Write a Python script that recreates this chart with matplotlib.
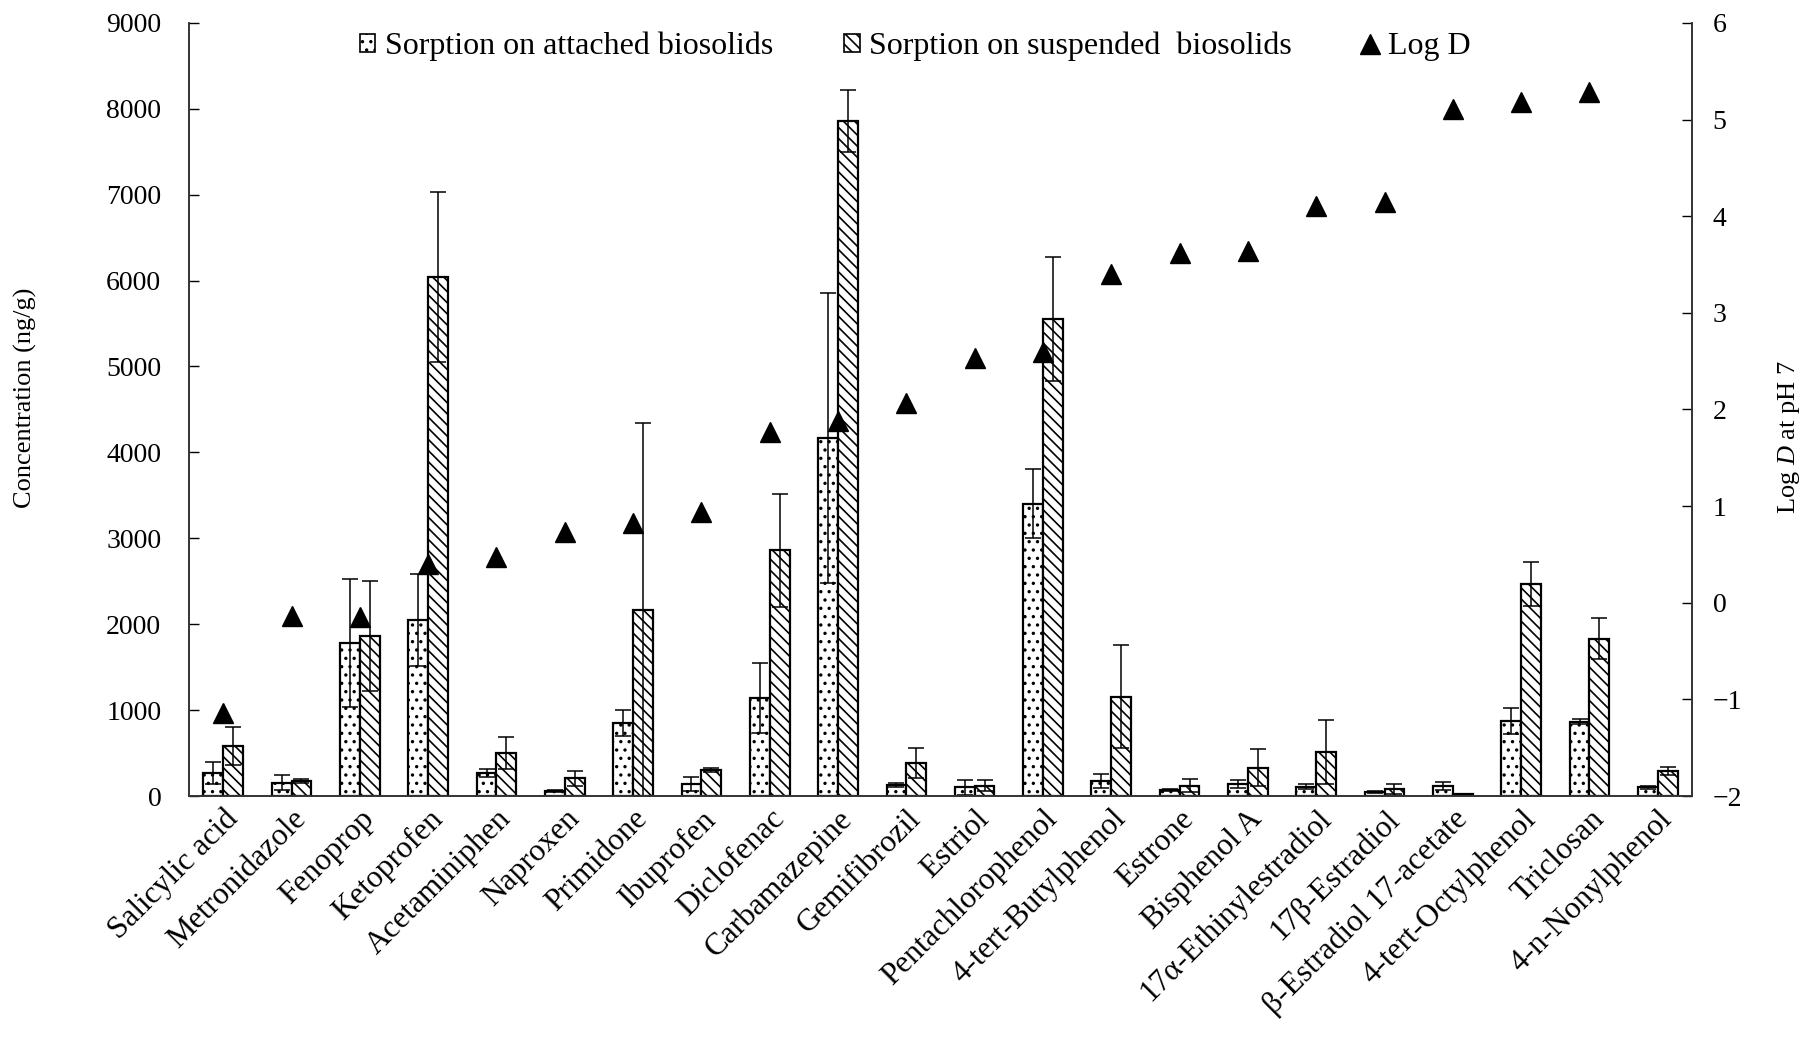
import numpy as np
import matplotlib
matplotlib.use("Agg")
import matplotlib.pyplot as plt
from matplotlib.lines import Line2D
from matplotlib.patches import Patch

plt.rcParams['font.family'] = ['Liberation Serif', 'DejaVu Serif']
plt.rcParams['mathtext.fontset'] = 'custom'
plt.rcParams['mathtext.rm'] = 'Liberation Serif'
plt.rcParams['mathtext.it'] = 'Liberation Serif:italic'
plt.rcParams['hatch.linewidth'] = 1.2

compounds = ["Salicylic acid", "Metronidazole", "Fenoprop", "Ketoprofen", "Acetaminiphen",
             "Naproxen", "Primidone", "Ibuprofen", "Diclofenac", "Carbamazepine",
             "Gemifibrozil", "Estriol", "Pentachlorophenol", "4-tert-Butylphenol", "Estrone",
             "Bisphenol A", "17α-Ethinylestradiol", "17β-Estradiol", "β-Estradiol 17-acetate",
             "4-tert-Octylphenol", "Triclosan", "4-n-Nonylphenol"]

attached = [270, 155, 1776, 2050, 264, 62, 852, 136, 1143, 4166, 128, 101, 3405,
            174, 70, 136, 108, 46, 116, 872, 864, 101]
attached_err = [125, 90, 745, 540, 46, 12, 155, 80, 410, 1685, 20, 85, 400,
                80, 10, 45, 28, 12, 47, 155, 30, 15]
suspended = [585, 174, 1860, 6040, 504, 206, 2163, 302, 2860, 7857, 380, 120, 5556,
             1155, 120, 329, 515, 81, 20, 2465, 1833, 294]
suspended_err = [220, 25, 640, 990, 186, 85, 2180, 20, 660, 357, 175, 65, 720,
                 600, 75, 215, 375, 58, 5, 258, 236, 47]
log_d = [-1.14, -0.14, -0.15, 0.40, 0.47, 0.73, 0.83, 0.94, 1.77, 1.88, 2.07, 2.53, 2.59,
         3.40, 3.62, 3.64, 4.11, 4.15, 5.11, 5.18, 5.28, np.nan]

x = np.arange(len(compounds))
w = 0.29

fig = plt.figure(figsize=(18.09, 10.40), dpi=100)
ax = fig.add_axes([0.1045, 0.2346, 0.8308, 0.7434])
ax2 = ax.twinx()

ax.bar(x - w / 2, attached, w, facecolor='white', edgecolor='black', linewidth=1.6, hatch='..')
ax.bar(x + w / 2, suspended, w, facecolor='white', edgecolor='black', linewidth=1.6, hatch='\\\\\\')
ax.errorbar(x - w / 2, attached, yerr=attached_err, fmt='none', ecolor='black',
            elinewidth=1.1, capsize=5.5, capthick=1.1)
ax.errorbar(x + w / 2, suspended, yerr=suspended_err, fmt='none', ecolor='black',
            elinewidth=1.1, capsize=5.5, capthick=1.1)

ax2.plot(x, log_d, linestyle='none', marker='^', markersize=14, color='black')

ax.set_xlim(-0.5, len(compounds) - 0.5)
ax.set_ylim(0, 9000)
ax.set_yticks(np.arange(0, 9001, 1000))
ax2.set_ylim(-2, 6)
ax2.set_yticks(np.arange(-2, 7, 1))

ax.set_xticks(x)
ax.set_xticklabels(compounds, rotation=45, ha='right', va='top', rotation_mode='anchor', fontsize=22.5)
ax.tick_params(axis='x', length=0, pad=6)
ax.tick_params(axis='y', direction='in', length=7, width=1, labelsize=20, pad=20)
ax2.tick_params(axis='y', direction='in', length=7, width=1, labelsize=20, pad=15)

for a in (ax, ax2):
    a.spines['top'].set_visible(False)
    for s in ('left', 'right', 'bottom'):
        a.spines[s].set_color('#333333')
        a.spines[s].set_linewidth(1.2)

ax.set_ylabel("Concentration (ng/g)", fontsize=19)
ax.yaxis.set_label_coords(-0.101, 0.515)
ax2.set_ylabel("Log $\\mathit{D}$ at pH 7", fontsize=19)
ax2.yaxis.set_label_coords(1.0556, 0.464)

handles = [Patch(facecolor='white', edgecolor='black', hatch='..', linewidth=1.2),
           Patch(facecolor='white', edgecolor='black', hatch='\\\\\\', linewidth=1.2),
           Line2D([], [], linestyle='none', marker='^', markersize=14, color='black')]
labels = ["Sorption on attached biosolids", "Sorption on suspended  biosolids", "Log D"]
ax2.legend(handles, labels, loc='upper center', bbox_to_anchor=(0.483, 1.026), ncol=3,
           frameon=False, fontsize=23, handlelength=0.5, handleheight=0.5,
           handletextpad=0.3, columnspacing=2.2)

plt.savefig("out.png", dpi=100)
